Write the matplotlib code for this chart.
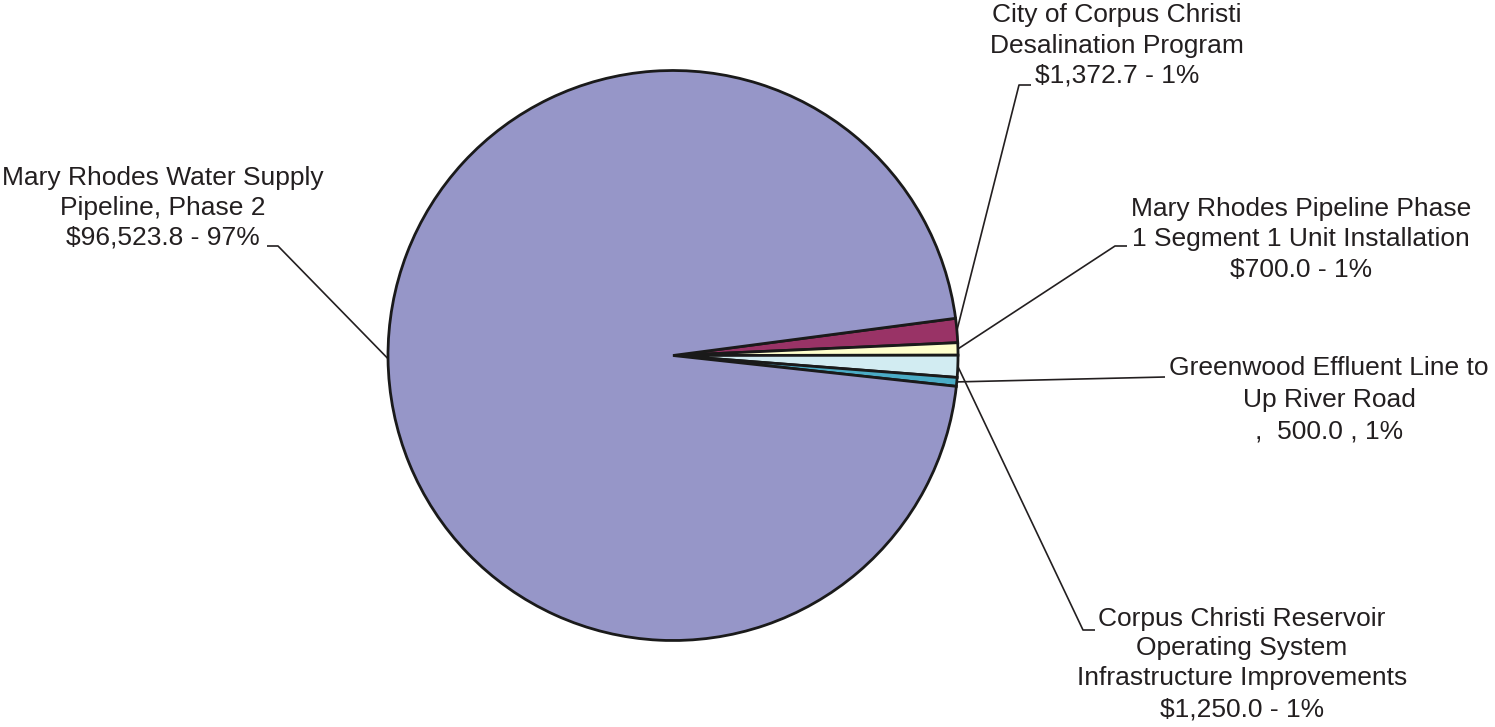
import numpy as np
import matplotlib
matplotlib.use("Agg")
import matplotlib.pyplot as plt

# ---- data ----
categories = [
    "City of Corpus Christi Desalination Program",
    "Mary Rhodes Pipeline Phase 1 Segment 1 Unit Installation",
    "Corpus Christi Reservoir Operating System Infrastructure Improvements",
    "Greenwood Effluent Line to Up River Road",
    "Mary Rhodes Water Supply Pipeline, Phase 2",
]
values = [1372.7, 700.0, 1250.0, 500.0, 96523.8]
label_lines = [
    ["City of Corpus Christi", "Desalination Program", "$1,372.7 - 1%"],
    ["Mary Rhodes Pipeline Phase", "1 Segment 1 Unit Installation", "$700.0 - 1%"],
    ["Corpus Christi Reservoir", "Operating System", "Infrastructure Improvements", "$1,250.0 - 1%"],
    ["Greenwood Effluent Line to", "Up River Road", ",  500.0 , 1%"],
    ["Mary Rhodes Water Supply", "Pipeline, Phase 2", "$96,523.8 - 97%"],
]
colors = ["#993366", "#FFFFCC", "#D2ECF2", "#4BACC6", "#9696C8"]

# ---- layout (pixel coords, origin top-left) ----
W, H = 1495, 727
CX, CY, R = 673, 355.5, 285
START = 7.5
text_layout = [
    dict(x=1117, baselines=[22, 53, 83]),
    dict(x=1301, baselines=[216, 246, 277]),
    dict(x=1242, baselines=[626, 655, 685, 717]),
    dict(x=1329, baselines=[375, 407, 438]),
    dict(x=163, baselines=[185, 215, 245]),
]
leader_layout = [
    [(1019, 85), (1031, 85)],
    [(1115, 246), (1127, 246)],
    [(1083, 630), (1095, 630)],
    [(1165, 377)],
    [(278, 246), (267, 246)],
]

TXT = "#231F20"
plt.rcParams['font.family'] = ['Liberation Sans', 'DejaVu Sans']

fig = plt.figure(figsize=(W / 100, H / 100), dpi=100)
ax = fig.add_axes([0, 0, 1, 1])

wedges, _ = ax.pie(values, colors=colors, startangle=START, counterclock=False,
                   center=(CX, H - CY), radius=R,
                   wedgeprops=dict(edgecolor="#1a1a1a", linewidth=2.0))
ax.set_xlim(0, W)
ax.set_ylim(0, H)
ax.set_aspect('equal')
ax.axis('off')

for w, lay, lines, leader in zip(wedges, text_layout, label_lines, leader_layout):
    mid = np.deg2rad((w.theta1 + w.theta2) / 2)
    sx = CX + R * np.cos(mid)
    sy = (H - CY) + R * np.sin(mid)
    xs = [sx] + [p[0] for p in leader]
    ys = [sy] + [H - p[1] for p in leader]
    ax.plot(xs, ys, color=TXT, lw=1.2, solid_capstyle='butt', zorder=0)
    for line, b in zip(lines, lay['baselines']):
        ax.text(lay['x'], H - b, line, ha='center', va='baseline',
                fontsize=19, color=TXT)

fig.savefig("out.png", dpi=100)
